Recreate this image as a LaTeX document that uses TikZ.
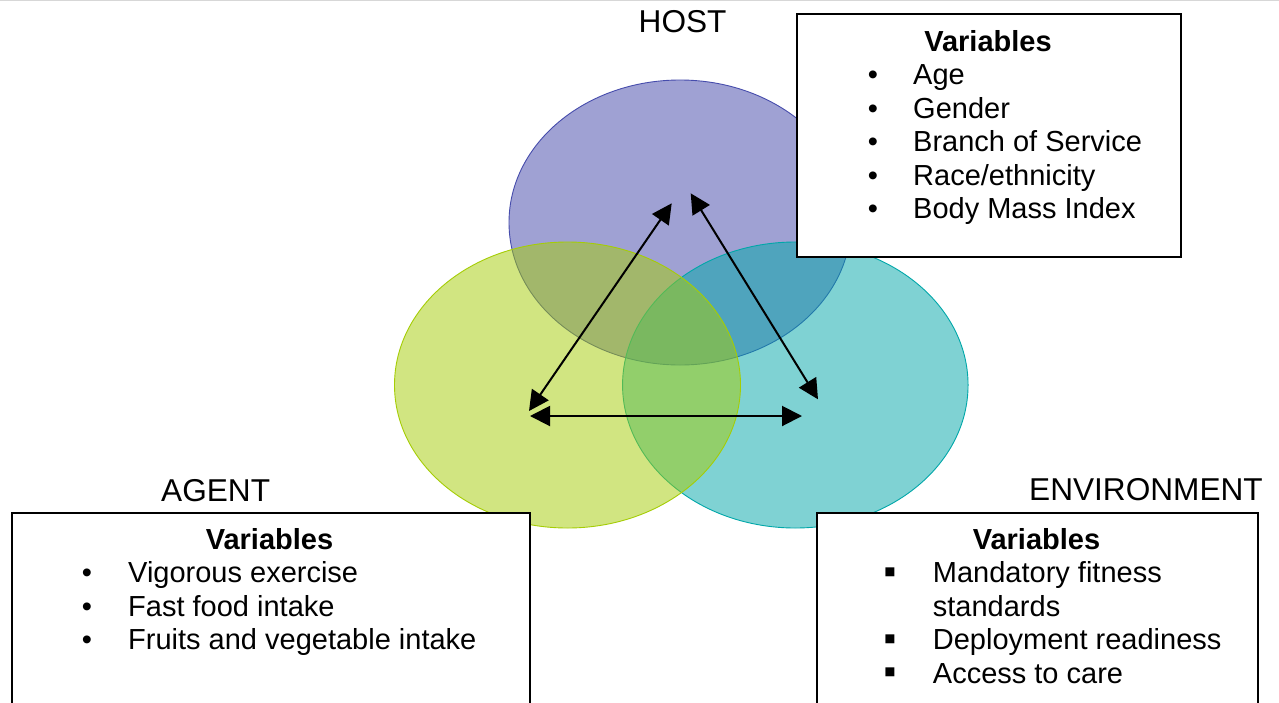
\documentclass[tikz,border=0pt]{standalone}
\usepackage{fontspec}
\setmainfont{Liberation Sans}
\usetikzlibrary{arrows.meta,shapes.geometric}
\definecolor{hostc}{RGB}{65,69,169}
\definecolor{hostline}{RGB}{70,76,172}
\definecolor{agentc}{RGB}{165,205,5}
\definecolor{envc}{RGB}{0,167,169}
\definecolor{topline}{RGB}{215,215,215}
\begin{document}
\begin{tikzpicture}[x=1pt,y=-1pt,
  venn/.style={ellipse, inner sep=0pt, fill opacity=0.5, line width=0.9pt},
  varbox/.style={draw=black, fill=white, line width=2pt, inner sep=0pt, anchor=north west},
  txt/.style={inner sep=0pt, anchor=base west, font=\fontsize{29}{33.5}\selectfont},
  head/.style={inner sep=0pt, anchor=base, font=\fontsize{29}{33.5}\selectfont\bfseries},
  lbl/.style={inner sep=0pt, anchor=base west, font=\fontsize{31.6}{36}\selectfont},
  bul/.style={inner sep=0pt, anchor=base, font=\fontsize{29}{33.5}\selectfont},
  sqbul/.style={inner sep=0pt, anchor=base, text height=13pt, text depth=0pt, font=\fontsize{36}{38}\selectfont},
  link/.style={line width=2pt, {Triangle[length=20pt,width=20pt]}-{Triangle[length=20pt,width=20pt]}}
]
\useasboundingbox (0,0) rectangle (1279,702);
\fill[white] (0,0) rectangle (1279,702);
\draw[topline, line width=1.2pt] (0,0.6) -- (1279,0.6);

% Venn ellipses
\node[venn, draw=hostline, fill=hostc, minimum width=342pt, minimum height=285pt] (host) at (680,222.5) {};
\node[venn, draw=envc, fill=envc, minimum width=345.5pt, minimum height=286pt] (env) at (795.3,385) {};
\node[venn, draw=agentc, fill=agentc, minimum width=346pt, minimum height=286pt] (agent) at (567.5,385) {};

% arrow end points
\coordinate (a1) at (529,411);
\coordinate (h1) at (671.7,203.3);
\coordinate (h2) at (690.7,193.3);
\coordinate (e1) at (818,399.3);
\coordinate (a2) at (530,416);
\coordinate (e2) at (802,416);
\draw[link] (a1) -- (h1);
\draw[link] (h2) -- (e1);
\draw[link] (a2) -- (e2);

% labels
\node[lbl] (hostlbl) at (638.5,32.5) {HOST};
\node[lbl] (agentlbl) at (161,501) {AGENT};
\node[lbl] (envlbl) at (1029,500) {ENVIRONMENT};

% host variables box
\node[varbox, minimum width=384pt, minimum height=243pt] (hbox) at (796,13) {};
\node[head] (hh) at (988,51) {Variables};
\node[bul] (hb1) at (873,84.5) {•};
\node[bul] (hb2) at (873,118) {•};
\node[bul] (hb3) at (873,151.5) {•};
\node[bul] (hb4) at (873,185) {•};
\node[bul] (hb5) at (873,218.5) {•};
\node[txt] (ht1) at (913,84.5) {Age};
\node[txt] (ht2) at (913,118) {Gender};
\node[txt] (ht3) at (913,151.5) {Branch of Service};
\node[txt] (ht4) at (913,185) {Race/ethnicity};
\node[txt] (ht5) at (913,218.5) {Body Mass Index};

% agent variables box
\node[varbox, minimum width=517.5pt, minimum height=220pt] (abox) at (11,511.7) {};
\node[head] (ah) at (269.5,549) {Variables};
\node[bul] (ab1) at (87,582.5) {•};
\node[bul] (ab2) at (87,616) {•};
\node[bul] (ab3) at (87,649.5) {•};
\node[txt] (at1) at (128,582.5) {Vigorous exercise};
\node[txt] (at2) at (128,616) {Fast food intake};
\node[txt] (at3) at (128,649.5) {Fruits and vegetable intake};

% environment variables box
\node[varbox, minimum width=441.3pt, minimum height=220pt] (ebox) at (816,511.7) {};
\node[head] (eh) at (1036.5,549) {Variables};
\node[sqbul] (eb1) at (890,583) {▪};
\node[sqbul] (eb3) at (890,650) {▪};
\node[sqbul] (eb4) at (890,683.5) {▪};
\node[txt] (et1) at (932.7,582.5) {Mandatory fitness};
\node[txt] (et2) at (932.7,616) {standards};
\node[txt] (et3) at (932.7,649.5) {Deployment readiness};
\node[txt] (et4) at (932.7,683) {Access to care};
\end{tikzpicture}
\end{document}
